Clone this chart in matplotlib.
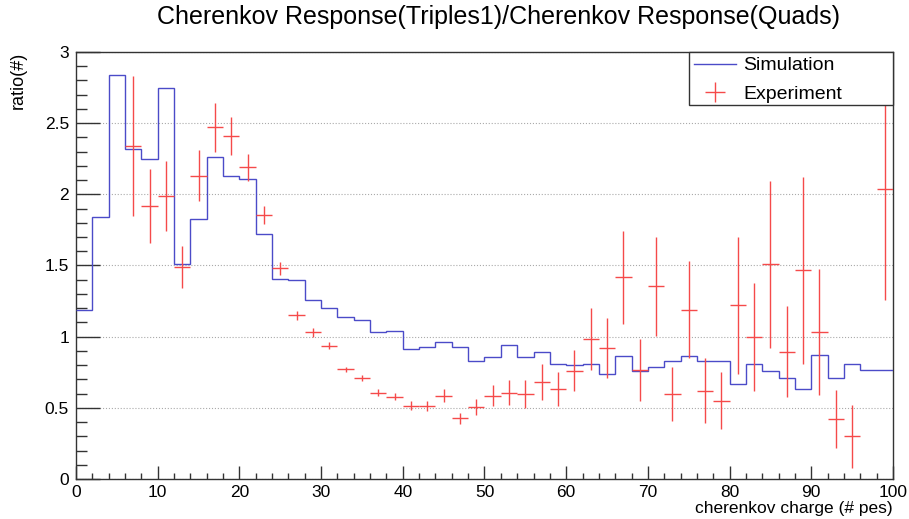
import numpy as np
import matplotlib
matplotlib.use('Agg')
import matplotlib.pyplot as plt
from matplotlib.patches import Rectangle

plt.rcParams['font.family'] = ['Liberation Sans', 'DejaVu Sans']

# simulation histogram, 2 pe bins from 0 to 100
sim_edges = np.arange(0, 101, 2)
sim_vals = [1.19, 1.84, 2.84, 2.32, 2.25, 2.75, 1.51, 1.83, 2.26, 2.13,
            2.11, 1.72, 1.405, 1.40, 1.26, 1.20, 1.14, 1.12, 1.03, 1.04,
            0.91, 0.93, 0.96, 0.93, 0.83, 0.86, 0.94, 0.86, 0.89, 0.81,
            0.80, 0.81, 0.74, 0.865, 0.76, 0.79, 0.83, 0.865, 0.83, 0.83,
            0.67, 0.81, 0.76, 0.71, 0.63, 0.87, 0.71, 0.805, 0.765, 0.765]

# experiment points
exp_x = [7, 9, 11, 13, 15, 17, 19, 21, 23, 25, 27, 29, 31, 33, 35, 37, 39,
         41, 43, 45, 47, 49, 51, 53, 55, 57, 59, 61, 63, 65, 67, 69, 71, 73,
         75, 77, 79, 81, 83, 85, 87, 89, 91, 93, 95, 99]
exp_y = [2.34, 1.92, 1.99, 1.49, 2.13, 2.47, 2.41, 2.19, 1.855, 1.48, 1.15,
         1.03, 0.935, 0.77, 0.71, 0.605, 0.577, 0.516, 0.514, 0.586, 0.425,
         0.507, 0.586, 0.607, 0.595, 0.68, 0.63, 0.762, 0.984, 0.92, 1.416,
         0.766, 1.353, 0.60, 1.19, 0.62, 0.551, 1.22, 1.0, 1.507, 0.893,
         1.465, 1.033, 0.423, 0.299, 2.036]
exp_err = [0.49, 0.26, 0.245, 0.15, 0.18, 0.17, 0.135, 0.095, 0.065, 0.045,
           0.03, 0.03, 0.025, 0.02, 0.02, 0.025, 0.025, 0.03, 0.035, 0.047,
           0.042, 0.058, 0.075, 0.09, 0.098, 0.125, 0.12, 0.147, 0.216, 0.212,
           0.325, 0.215, 0.35, 0.19, 0.34, 0.23, 0.2, 0.48, 0.38, 0.585, 0.32,
           0.66, 0.44, 0.205, 0.22, 0.78]

fig = plt.figure(figsize=(9.09, 5.19), dpi=100)
ax = fig.add_axes([0.0836, 0.0771, 0.8988, 0.8227])

ax.stairs(sim_vals, sim_edges, baseline=None, color='#4b4bc8', lw=1,
          label='Simulation', zorder=3)
ax.errorbar(exp_x, exp_y, xerr=1, yerr=exp_err, fmt='none', ecolor='#f54a4a',
            elinewidth=1, capsize=0, label='Experiment', zorder=3)

ax.set_xlim(0, 100)
ax.set_ylim(0, 3)
ax.set_xticks(np.arange(0, 101, 10))
ax.set_xticks(np.arange(0, 101, 2), minor=True)
ax.set_yticks(np.arange(0, 3.01, 0.5))
ax.set_yticklabels(['0', '0.5', '1', '1.5', '2', '2.5', '3'])
ax.set_yticks(np.arange(0, 3.01, 0.1), minor=True)
ax.tick_params(axis='both', which='both', direction='in', colors='#333333',
               labelcolor='black', labelsize=12.5, width=1)
ax.tick_params(axis='x', which='major', length=9.4, pad=4)
ax.tick_params(axis='x', which='minor', length=4.3)
ax.tick_params(axis='y', which='major', length=17.3, pad=5)
ax.tick_params(axis='y', which='minor', length=8)
for s in ax.spines.values():
    s.set_color('#333333')
    s.set_linewidth(1)
ax.yaxis.grid(True, which='major', ls=':', color='#aaaaaa', lw=0.8)
ax.set_axisbelow(True)

fig.text(0.548, 1 - 17 / 519, 'Cherenkov Response(Triples1)/Cherenkov Response(Quads)',
         ha='center', va='center', fontsize=18)
fig.text(18 / 909, 1 - 52 / 519, 'ratio(#)', rotation=90, ha='center', va='top',
         fontsize=13)
fig.text(893 / 909, 1 - 508 / 519, 'cherenkov charge (# pes)', ha='right',
         va='center', fontsize=12.5)

box = Rectangle((0.750, 0.876), 0.25, 0.124, transform=ax.transAxes,
                facecolor='white', edgecolor='#333333', lw=1, zorder=4,
                clip_on=False)
ax.add_patch(box)
ax.legend(loc='upper left', bbox_to_anchor=(0.750, 1.0), borderaxespad=0,
          frameon=False, fontsize=14, handlelength=2.2, handletextpad=0.35,
          borderpad=0.25, labelspacing=0.55).set_zorder(5)

plt.savefig('out.png', dpi=100)
